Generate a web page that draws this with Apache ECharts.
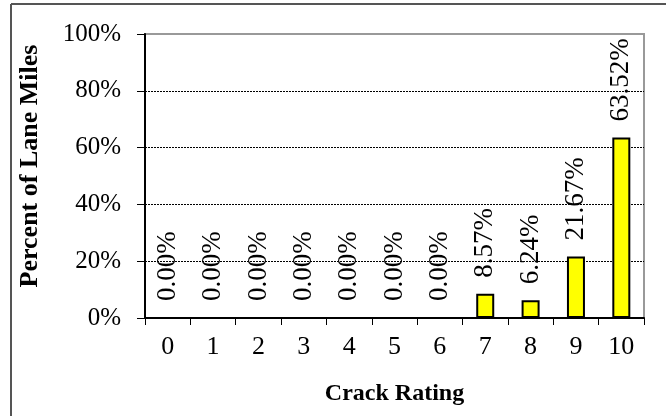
<!DOCTYPE html>
<html>
<head>
<meta charset="utf-8">
<script src="https://cdn.jsdelivr.net/npm/echarts@6/dist/echarts.min.js"></script>
<style>html,body{margin:0;padding:0;background:#fff}#c{width:666px;height:416px}</style>
</head>
<body>
<div id="c"></div>
<script>
var categories = ['0','1','2','3','4','5','6','7','8','9','10'];
var percentValues = [0, 0, 0, 0, 0, 0, 0, 8.57, 6.24, 21.67, 63.52];
var yTicks = [0, 20, 40, 60, 80, 100];
var xTitle = 'Crack Rating';
var yTitle = 'Percent of Lane Miles';

var FONT = "'Liberation Serif', 'Times New Roman', serif";
var chart = echarts.init(document.getElementById('c'), null, {renderer: 'canvas'});
chart.setOption({
  animation: false,
  backgroundColor: '#fff',
  grid: {left: 145, right: 22, top: 34, bottom: 98, show: true, borderColor: '#999', borderWidth: 2, backgroundColor: 'transparent'},
  graphic: [
    {type: 'line', shape: {x1: 11, y1: 4, x2: 666, y2: 4}, style: {stroke: '#555', lineWidth: 2}},
    {type: 'line', shape: {x1: 11, y1: 4, x2: 11, y2: 416}, style: {stroke: '#555', lineWidth: 2}},
    {type: 'text', x: 30, y: 166, rotation: Math.PI / 2,
     style: {text: yTitle, font: 'bold 26px ' + FONT, fill: '#000', align: 'center', verticalAlign: 'middle'}}
  ],
  xAxis: {
    type: 'category',
    data: categories,
    boundaryGap: true,
    name: xTitle,
    nameLocation: 'middle',
    nameGap: 64,
    nameTextStyle: {fontFamily: FONT, fontSize: 24, fontWeight: 'bold', color: '#000'},
    axisLine: {lineStyle: {color: '#000', width: 2}},
    axisTick: {show: true, length: 7, lineStyle: {color: '#000', width: 1}},
    axisLabel: {fontFamily: FONT, fontSize: 26, color: '#000', margin: 16},
    splitLine: {show: false}
  },
  yAxis: {
    type: 'value',
    min: yTicks[0],
    max: yTicks[yTicks.length - 1],
    interval: 20,
    axisLine: {show: true, lineStyle: {color: '#000', width: 2}},
    axisTick: {show: true, length: 8, lineStyle: {color: '#000', width: 1}},
    axisLabel: {fontFamily: FONT, fontSize: 25, color: '#000', margin: 24, formatter: function (v) { return v + '%'; }},
    splitLine: {show: true, showMinLine: false, showMaxLine: false, lineStyle: {color: '#000', width: 1, type: [2, 1]}}
  },
  series: [{
    type: 'bar',
    data: percentValues,
    barWidth: 18,
    itemStyle: {color: '#FFFF00', borderColor: '#000', borderWidth: 2},
    label: {
      show: true,
      position: 'top',
      rotate: 90,
      align: 'left',
      verticalAlign: 'middle',
      distance: 16,
      fontFamily: FONT,
      fontSize: 27,
      color: '#000',
      formatter: function (p) { return p.value.toFixed(2) + '%'; }
    }
  }]
});
</script>
</body>
</html>
